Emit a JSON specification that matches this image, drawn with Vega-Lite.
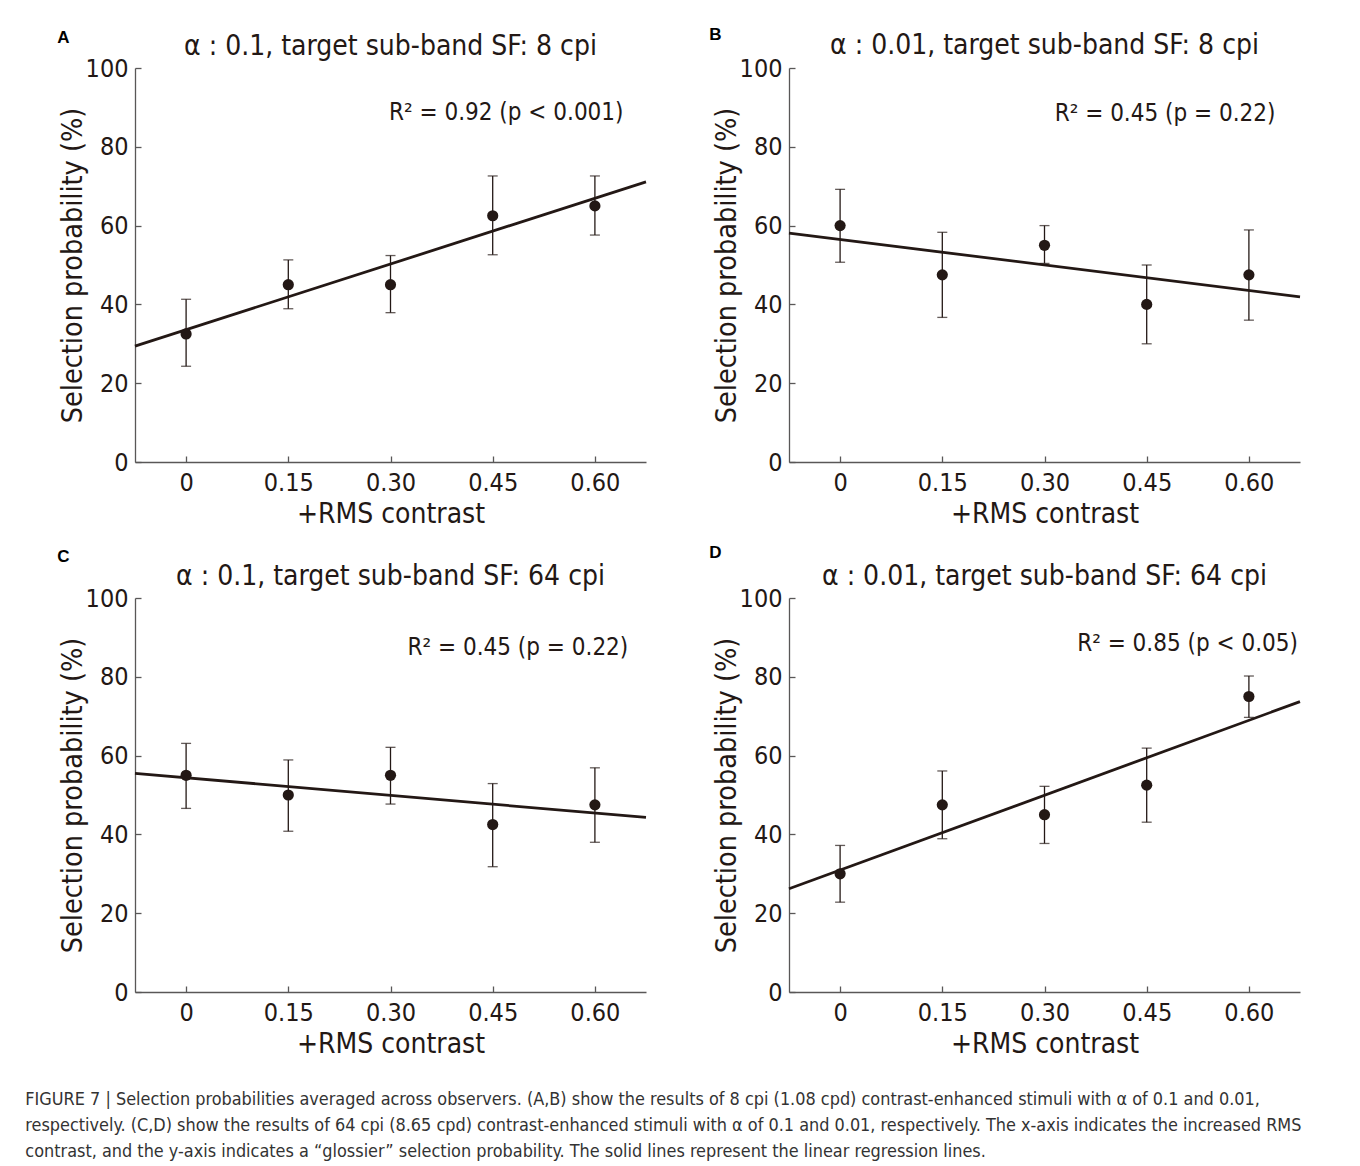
{
  "$schema": "https://vega.github.io/schema/vega-lite/v6.json",
  "background": "white",
  "padding": {"left": 25, "top": 26, "right": 5, "bottom": 5},
  "datasets": {
    "pts": [
      {"panel": "A", "contrast": 0, "prob": 32.5, "lo": 24.3, "hi": 41.3},
      {"panel": "A", "contrast": 0.15, "prob": 45, "lo": 38.9, "hi": 51.3},
      {"panel": "A", "contrast": 0.3, "prob": 45, "lo": 37.9, "hi": 52.4},
      {"panel": "A", "contrast": 0.45, "prob": 62.5, "lo": 52.6, "hi": 72.6},
      {"panel": "A", "contrast": 0.6, "prob": 65, "lo": 57.6, "hi": 72.6},
      {"panel": "B", "contrast": 0, "prob": 60, "lo": 50.7, "hi": 69.2},
      {"panel": "B", "contrast": 0.15, "prob": 47.5, "lo": 36.7, "hi": 58.3},
      {"panel": "B", "contrast": 0.3, "prob": 55, "lo": 50.4, "hi": 60},
      {"panel": "B", "contrast": 0.45, "prob": 40, "lo": 30, "hi": 50},
      {"panel": "B", "contrast": 0.6, "prob": 47.5, "lo": 36, "hi": 58.9},
      {"panel": "C", "contrast": 0, "prob": 55, "lo": 46.6, "hi": 63.1},
      {"panel": "C", "contrast": 0.15, "prob": 50, "lo": 40.8, "hi": 58.9},
      {"panel": "C", "contrast": 0.3, "prob": 55, "lo": 47.7, "hi": 62.1},
      {"panel": "C", "contrast": 0.45, "prob": 42.5, "lo": 31.8, "hi": 52.9},
      {"panel": "C", "contrast": 0.6, "prob": 47.5, "lo": 38, "hi": 56.9},
      {"panel": "D", "contrast": 0, "prob": 30, "lo": 22.8, "hi": 37.2},
      {"panel": "D", "contrast": 0.15, "prob": 47.5, "lo": 38.9, "hi": 56.1},
      {"panel": "D", "contrast": 0.3, "prob": 45, "lo": 37.7, "hi": 52.2},
      {"panel": "D", "contrast": 0.45, "prob": 52.5, "lo": 43.1, "hi": 61.9},
      {"panel": "D", "contrast": 0.6, "prob": 75, "lo": 69.7, "hi": 80.2}
    ],
    "fit": [
      {"panel": "A", "contrast": -0.075, "prob": 29.4},
      {"panel": "A", "contrast": 0.675, "prob": 71.1},
      {"panel": "B", "contrast": -0.075, "prob": 58.1},
      {"panel": "B", "contrast": 0.675, "prob": 41.9},
      {"panel": "C", "contrast": -0.075, "prob": 55.5},
      {"panel": "C", "contrast": 0.675, "prob": 44.3},
      {"panel": "D", "contrast": -0.075, "prob": 26.2},
      {"panel": "D", "contrast": 0.675, "prob": 73.7}
    ],
    "notes": [
      {"panel": "A", "letter": "A", "r2": "R² = 0.92 (p < 0.001)"},
      {"panel": "B", "letter": "B", "r2": "R² = 0.45 (p = 0.22)"},
      {"panel": "C", "letter": "C", "r2": "R² = 0.45 (p = 0.22)"},
      {"panel": "D", "letter": "D", "r2": "R² = 0.85 (p < 0.05)"}
    ]
  },
  "title": {
    "text": [
      "FIGURE 7 | Selection probabilities averaged across observers. (A,B) show the results of 8 cpi (1.08 cpd) contrast-enhanced stimuli with α of 0.1 and 0.01,",
      "respectively. (C,D) show the results of 64 cpi (8.65 cpd) contrast-enhanced stimuli with α of 0.1 and 0.01, respectively. The x-axis indicates the increased RMS",
      "contrast, and the y-axis indicates a “glossier” selection probability. The solid lines represent the linear regression lines."
    ],
    "orient": "bottom",
    "anchor": "start",
    "frame": "bounds",
    "dx": -32,
    "offset": 33,
    "font": "DejaVu Sans Condensed, sans-serif",
    "fontSize": 17.9,
    "fontWeight": "normal",
    "lineHeight": 26,
    "color": "#333333"
  },
  "columns": 2,
  "spacing": {"row": 136, "column": 143},
  "bounds": "flush",
  "concat": [
    {
      "width": 511, "height": 394,
      "title": {"text": "α : 0.1, target sub-band SF: 8 cpi", "offset": -32},
      "layer": [
        {"data": {"name": "pts"}, "transform": [{"filter": "datum.panel == 'A'"}], "mark": {"type": "rule", "color": "#231815", "strokeWidth": 1.3},
         "encoding": {
           "x": {"field": "contrast", "type": "quantitative", "title": "+RMS contrast", "scale": {"domain": [-0.075, 0.675], "nice": false, "zero": false},
                 "axis": {"values": [0, 0.15, 0.3, 0.45, 0.6], "labelExpr": "datum.value == 0 ? '0' : format(datum.value, '.2f')"}},
           "y": {"field": "lo", "type": "quantitative", "title": "Selection probability (%)", "scale": {"domain": [0, 100], "nice": false},
                 "axis": {"values": [0, 20, 40, 60, 80, 100]}},
           "y2": {"field": "hi"}}},
        {"data": {"name": "pts"}, "transform": [{"filter": "datum.panel == 'A'"}], "mark": {"type": "tick", "orient": "horizontal", "color": "#231815", "size": 10, "thickness": 1.3},
         "encoding": {"x": {"field": "contrast", "type": "quantitative", "title": "+RMS contrast"}, "y": {"field": "lo", "type": "quantitative", "title": "Selection probability (%)"}}},
        {"data": {"name": "pts"}, "transform": [{"filter": "datum.panel == 'A'"}], "mark": {"type": "tick", "orient": "horizontal", "color": "#231815", "size": 10, "thickness": 1.3},
         "encoding": {"x": {"field": "contrast", "type": "quantitative", "title": "+RMS contrast"}, "y": {"field": "hi", "type": "quantitative", "title": "Selection probability (%)"}}},
        {"data": {"name": "fit"}, "transform": [{"filter": "datum.panel == 'A'"}], "mark": {"type": "line", "color": "#231815", "strokeWidth": 2.8},
         "encoding": {"x": {"field": "contrast", "type": "quantitative", "title": "+RMS contrast"}, "y": {"field": "prob", "type": "quantitative", "title": "Selection probability (%)"}}},
        {"data": {"name": "pts"}, "transform": [{"filter": "datum.panel == 'A'"}], "mark": {"type": "point", "filled": true, "color": "#231815", "opacity": 1, "size": 125},
         "encoding": {"x": {"field": "contrast", "type": "quantitative", "title": "+RMS contrast"}, "y": {"field": "prob", "type": "quantitative", "title": "Selection probability (%)"}}},
        {"data": {"name": "notes"}, "transform": [{"filter": "datum.panel == 'A'"}], "mark": {"type": "text", "align": "right", "baseline": "middle", "fontSize": 24, "color": "#231815"},
         "encoding": {"x": {"datum": 0.642, "type": "quantitative"}, "y": {"datum": 88.7, "type": "quantitative"}, "text": {"field": "r2", "type": "nominal"}}},
        {"data": {"name": "notes"}, "transform": [{"filter": "datum.panel == 'A'"}], "mark": {"type": "text", "align": "left", "baseline": "middle", "fontSize": 17, "fontWeight": "bold", "font": "Liberation Sans, Arial, sans-serif", "color": "#000000"},
         "encoding": {"x": {"datum": -0.189, "type": "quantitative"}, "y": {"datum": 107.7, "type": "quantitative"}, "text": {"field": "letter", "type": "nominal"}}}
      ]
    },
    {
      "width": 511, "height": 394,
      "title": {"text": "α : 0.01, target sub-band SF: 8 cpi", "offset": -34},
      "layer": [
        {"data": {"name": "pts"}, "transform": [{"filter": "datum.panel == 'B'"}], "mark": {"type": "rule", "color": "#231815", "strokeWidth": 1.3},
         "encoding": {
           "x": {"field": "contrast", "type": "quantitative", "title": "+RMS contrast", "scale": {"domain": [-0.075, 0.675], "nice": false, "zero": false},
                 "axis": {"values": [0, 0.15, 0.3, 0.45, 0.6], "labelExpr": "datum.value == 0 ? '0' : format(datum.value, '.2f')"}},
           "y": {"field": "lo", "type": "quantitative", "title": "Selection probability (%)", "scale": {"domain": [0, 100], "nice": false},
                 "axis": {"values": [0, 20, 40, 60, 80, 100]}},
           "y2": {"field": "hi"}}},
        {"data": {"name": "pts"}, "transform": [{"filter": "datum.panel == 'B'"}], "mark": {"type": "tick", "orient": "horizontal", "color": "#231815", "size": 10, "thickness": 1.3},
         "encoding": {"x": {"field": "contrast", "type": "quantitative", "title": "+RMS contrast"}, "y": {"field": "lo", "type": "quantitative", "title": "Selection probability (%)"}}},
        {"data": {"name": "pts"}, "transform": [{"filter": "datum.panel == 'B'"}], "mark": {"type": "tick", "orient": "horizontal", "color": "#231815", "size": 10, "thickness": 1.3},
         "encoding": {"x": {"field": "contrast", "type": "quantitative", "title": "+RMS contrast"}, "y": {"field": "hi", "type": "quantitative", "title": "Selection probability (%)"}}},
        {"data": {"name": "fit"}, "transform": [{"filter": "datum.panel == 'B'"}], "mark": {"type": "line", "color": "#231815", "strokeWidth": 2.8},
         "encoding": {"x": {"field": "contrast", "type": "quantitative", "title": "+RMS contrast"}, "y": {"field": "prob", "type": "quantitative", "title": "Selection probability (%)"}}},
        {"data": {"name": "pts"}, "transform": [{"filter": "datum.panel == 'B'"}], "mark": {"type": "point", "filled": true, "color": "#231815", "opacity": 1, "size": 125},
         "encoding": {"x": {"field": "contrast", "type": "quantitative", "title": "+RMS contrast"}, "y": {"field": "prob", "type": "quantitative", "title": "Selection probability (%)"}}},
        {"data": {"name": "notes"}, "transform": [{"filter": "datum.panel == 'B'"}], "mark": {"type": "text", "align": "right", "baseline": "middle", "fontSize": 24, "color": "#231815"},
         "encoding": {"x": {"datum": 0.639, "type": "quantitative"}, "y": {"datum": 88.3, "type": "quantitative"}, "text": {"field": "r2", "type": "nominal"}}},
        {"data": {"name": "notes"}, "transform": [{"filter": "datum.panel == 'B'"}], "mark": {"type": "text", "align": "left", "baseline": "middle", "fontSize": 17, "fontWeight": "bold", "font": "Liberation Sans, Arial, sans-serif", "color": "#000000"},
         "encoding": {"x": {"datum": -0.192, "type": "quantitative"}, "y": {"datum": 108.3, "type": "quantitative"}, "text": {"field": "letter", "type": "nominal"}}}
      ]
    },
    {
      "width": 511, "height": 394,
      "title": {"text": "α : 0.1, target sub-band SF: 64 cpi", "offset": -43},
      "layer": [
        {"data": {"name": "pts"}, "transform": [{"filter": "datum.panel == 'C'"}], "mark": {"type": "rule", "color": "#231815", "strokeWidth": 1.3},
         "encoding": {
           "x": {"field": "contrast", "type": "quantitative", "title": "+RMS contrast", "scale": {"domain": [-0.075, 0.675], "nice": false, "zero": false},
                 "axis": {"values": [0, 0.15, 0.3, 0.45, 0.6], "labelExpr": "datum.value == 0 ? '0' : format(datum.value, '.2f')"}},
           "y": {"field": "lo", "type": "quantitative", "title": "Selection probability (%)", "scale": {"domain": [0, 100], "nice": false},
                 "axis": {"values": [0, 20, 40, 60, 80, 100]}},
           "y2": {"field": "hi"}}},
        {"data": {"name": "pts"}, "transform": [{"filter": "datum.panel == 'C'"}], "mark": {"type": "tick", "orient": "horizontal", "color": "#231815", "size": 10, "thickness": 1.3},
         "encoding": {"x": {"field": "contrast", "type": "quantitative", "title": "+RMS contrast"}, "y": {"field": "lo", "type": "quantitative", "title": "Selection probability (%)"}}},
        {"data": {"name": "pts"}, "transform": [{"filter": "datum.panel == 'C'"}], "mark": {"type": "tick", "orient": "horizontal", "color": "#231815", "size": 10, "thickness": 1.3},
         "encoding": {"x": {"field": "contrast", "type": "quantitative", "title": "+RMS contrast"}, "y": {"field": "hi", "type": "quantitative", "title": "Selection probability (%)"}}},
        {"data": {"name": "fit"}, "transform": [{"filter": "datum.panel == 'C'"}], "mark": {"type": "line", "color": "#231815", "strokeWidth": 2.8},
         "encoding": {"x": {"field": "contrast", "type": "quantitative", "title": "+RMS contrast"}, "y": {"field": "prob", "type": "quantitative", "title": "Selection probability (%)"}}},
        {"data": {"name": "pts"}, "transform": [{"filter": "datum.panel == 'C'"}], "mark": {"type": "point", "filled": true, "color": "#231815", "opacity": 1, "size": 125},
         "encoding": {"x": {"field": "contrast", "type": "quantitative", "title": "+RMS contrast"}, "y": {"field": "prob", "type": "quantitative", "title": "Selection probability (%)"}}},
        {"data": {"name": "notes"}, "transform": [{"filter": "datum.panel == 'C'"}], "mark": {"type": "text", "align": "right", "baseline": "middle", "fontSize": 24, "color": "#231815"},
         "encoding": {"x": {"datum": 0.649, "type": "quantitative"}, "y": {"datum": 87.2, "type": "quantitative"}, "text": {"field": "r2", "type": "nominal"}}},
        {"data": {"name": "notes"}, "transform": [{"filter": "datum.panel == 'C'"}], "mark": {"type": "text", "align": "left", "baseline": "middle", "fontSize": 17, "fontWeight": "bold", "font": "Liberation Sans, Arial, sans-serif", "color": "#000000"},
         "encoding": {"x": {"datum": -0.189, "type": "quantitative"}, "y": {"datum": 110.5, "type": "quantitative"}, "text": {"field": "letter", "type": "nominal"}}}
      ]
    },
    {
      "width": 511, "height": 394,
      "title": {"text": "α : 0.01, target sub-band SF: 64 cpi", "offset": -47},
      "layer": [
        {"data": {"name": "pts"}, "transform": [{"filter": "datum.panel == 'D'"}], "mark": {"type": "rule", "color": "#231815", "strokeWidth": 1.3},
         "encoding": {
           "x": {"field": "contrast", "type": "quantitative", "title": "+RMS contrast", "scale": {"domain": [-0.075, 0.675], "nice": false, "zero": false},
                 "axis": {"values": [0, 0.15, 0.3, 0.45, 0.6], "labelExpr": "datum.value == 0 ? '0' : format(datum.value, '.2f')"}},
           "y": {"field": "lo", "type": "quantitative", "title": "Selection probability (%)", "scale": {"domain": [0, 100], "nice": false},
                 "axis": {"values": [0, 20, 40, 60, 80, 100]}},
           "y2": {"field": "hi"}}},
        {"data": {"name": "pts"}, "transform": [{"filter": "datum.panel == 'D'"}], "mark": {"type": "tick", "orient": "horizontal", "color": "#231815", "size": 10, "thickness": 1.3},
         "encoding": {"x": {"field": "contrast", "type": "quantitative", "title": "+RMS contrast"}, "y": {"field": "lo", "type": "quantitative", "title": "Selection probability (%)"}}},
        {"data": {"name": "pts"}, "transform": [{"filter": "datum.panel == 'D'"}], "mark": {"type": "tick", "orient": "horizontal", "color": "#231815", "size": 10, "thickness": 1.3},
         "encoding": {"x": {"field": "contrast", "type": "quantitative", "title": "+RMS contrast"}, "y": {"field": "hi", "type": "quantitative", "title": "Selection probability (%)"}}},
        {"data": {"name": "fit"}, "transform": [{"filter": "datum.panel == 'D'"}], "mark": {"type": "line", "color": "#231815", "strokeWidth": 2.8},
         "encoding": {"x": {"field": "contrast", "type": "quantitative", "title": "+RMS contrast"}, "y": {"field": "prob", "type": "quantitative", "title": "Selection probability (%)"}}},
        {"data": {"name": "pts"}, "transform": [{"filter": "datum.panel == 'D'"}], "mark": {"type": "point", "filled": true, "color": "#231815", "opacity": 1, "size": 125},
         "encoding": {"x": {"field": "contrast", "type": "quantitative", "title": "+RMS contrast"}, "y": {"field": "prob", "type": "quantitative", "title": "Selection probability (%)"}}},
        {"data": {"name": "notes"}, "transform": [{"filter": "datum.panel == 'D'"}], "mark": {"type": "text", "align": "right", "baseline": "middle", "fontSize": 24, "color": "#231815"},
         "encoding": {"x": {"datum": 0.672, "type": "quantitative"}, "y": {"datum": 88.2, "type": "quantitative"}, "text": {"field": "r2", "type": "nominal"}}},
        {"data": {"name": "notes"}, "transform": [{"filter": "datum.panel == 'D'"}], "mark": {"type": "text", "align": "left", "baseline": "middle", "fontSize": 17, "fontWeight": "bold", "font": "Liberation Sans, Arial, sans-serif", "color": "#000000"},
         "encoding": {"x": {"datum": -0.192, "type": "quantitative"}, "y": {"datum": 111.5, "type": "quantitative"}, "text": {"field": "letter", "type": "nominal"}}}
      ]
    }
  ],
  "config": {
    "view": {"stroke": null},
    "font": "DejaVu Sans Condensed, sans-serif",
    "text": {"font": "DejaVu Sans Condensed, sans-serif"},
    "title": {"font": "DejaVu Sans Condensed, sans-serif", "fontSize": 28, "fontWeight": "normal", "color": "#231815", "anchor": "middle"},
    "axis": {
      "grid": false,
      "domainColor": "#595757",
      "domainWidth": 1.3,
      "tickColor": "#595757",
      "tickWidth": 1.3,
      "tickSize": -6,
      "labelFont": "DejaVu Sans Condensed, sans-serif",
      "labelFontSize": 25,
      "labelColor": "#231815",
      "titleFont": "DejaVu Sans Condensed, sans-serif",
      "titleFontWeight": "normal",
      "titleColor": "#231815"
    },
    "axisX": {"titlePadding": 5, "labelPadding": 14, "labelFlush": false, "titleFontSize": 28},
    "axisY": {"titlePadding": -2, "labelPadding": 13, "labelFlush": false, "titleFontSize": 28.5}
  }
}
